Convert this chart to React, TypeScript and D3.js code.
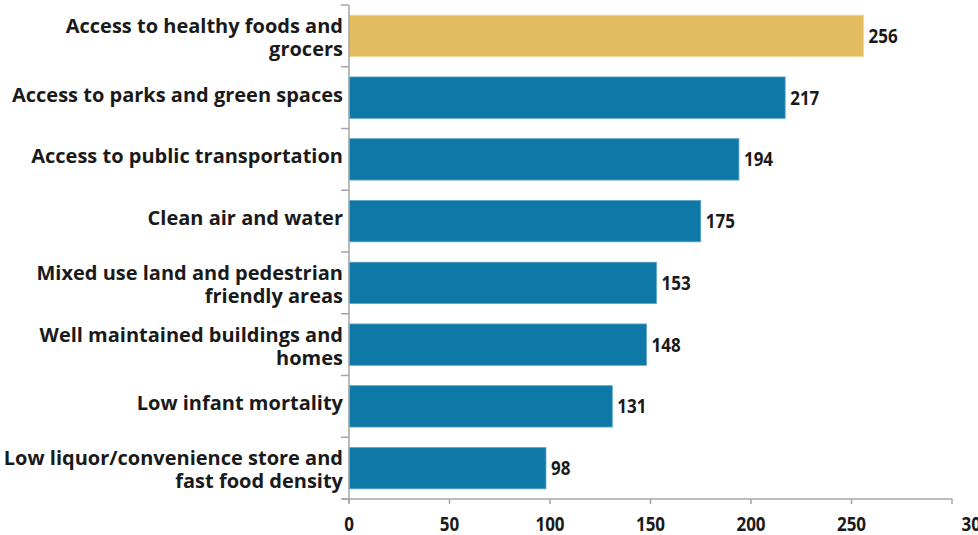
import React from "react";
import * as d3 from "d3";

const categories = [
  "Access to healthy foods and\ngrocers",
  "Access to parks and green spaces",
  "Access to public transportation",
  "Clean air and water",
  "Mixed use land and pedestrian\nfriendly areas",
  "Well maintained buildings and\nhomes",
  "Low infant mortality",
  "Low liquor/convenience store and\nfast food density",
];
const values = [256, 217, 194, 175, 153, 148, 131, 98];
const highlighted = [true, false, false, false, false, false, false, false];
const xTicks = [0, 50, 100, 150, 200, 250, 300];

const W = 978;
const H = 535;
const GOLD = "#E2BC5E";
const BLUE = "#0E78A7";
const AXIS = "#A6A6A6";
const TEXT = "#1A1A1A";
const FONT = "'Open Sans', 'Noto Sans', sans-serif";

export default function App() {
  const x = d3.scaleLinear().domain([0, 300]).range([349, 952]);
  const y = d3
    .scaleBand<string>()
    .domain(categories)
    .range([5, 499])
    .paddingInner(0.33)
    .paddingOuter(0.165);
  const step = y.step();
  const bw = y.bandwidth();
  const axisY = 499;
  const x0 = x(0);

  const boundaries = d3.range(categories.length + 1).map((i) => 5 + i * step);

  return (
    <svg
      width={W}
      height={H}
      style={{ position: "absolute", left: 0, top: 0, background: "#fff" }}
      fontFamily={FONT}
    >
      {/* bars */}
      {categories.map((c, i) => (
        <rect
          key={c}
          x={x0}
          y={y(c)!}
          width={x(values[i]) - x0}
          height={bw}
          fill={highlighted[i] ? GOLD : BLUE}
          stroke={highlighted[i] ? "#F0D89A" : "#5FA6C8"}
          strokeWidth={0.8}
        />
      ))}
      {/* value labels */}
      {categories.map((c, i) => (
        <g
          key={c + "v"}
          transform={`translate(${x(values[i]) + 5},${y(c)! + bw / 2 + 7}) scale(0.85,1)`}
        >
          <text fontSize={20} fontWeight={700} fill={TEXT}>
            {values[i]}
          </text>
        </g>
      ))}
      {/* category labels */}
      {categories.map((c) => {
        const lines = c.split("\n");
        const cy = y(c)! + bw / 2;
        const base = lines.length === 1 ? cy + 4 : cy - 3;
        return (
          <text
            key={c + "l"}
            textAnchor="end"
            fontSize={20}
            fontWeight={700}
            fill={TEXT}
          >
            {lines.map((l, j) => (
              <tspan key={j} x={343} y={base + j * 23}>
                {l}
              </tspan>
            ))}
          </text>
        );
      })}
      {/* left axis */}
      <line x1={x0} x2={x0} y1={5} y2={axisY + 4} stroke={AXIS} strokeWidth={1.5} />
      {boundaries.map((b, i) => (
        <line key={"b" + i} x1={x0 - 8} x2={x0} y1={b} y2={b} stroke={AXIS} strokeWidth={1.5} />
      ))}
      {/* bottom axis */}
      <line x1={x0 - 7} x2={x(300)} y1={axisY} y2={axisY} stroke={AXIS} strokeWidth={1.5} />
      {xTicks.map((t) => (
        <line key={"t" + t} x1={x(t)} x2={x(t)} y1={axisY} y2={axisY + 5} stroke={AXIS} strokeWidth={1.5} />
      ))}
      {xTicks.map((t, i) => (
        <g
          key={"tl" + t}
          transform={`translate(${x(t) + (i === xTicks.length - 1 ? 24 : 0)},${531}) scale(0.85,1)`}
        >
          <text textAnchor="middle" fontSize={20} fontWeight={700} fill={TEXT}>
            {t}
          </text>
        </g>
      ))}
    </svg>
  );
}
